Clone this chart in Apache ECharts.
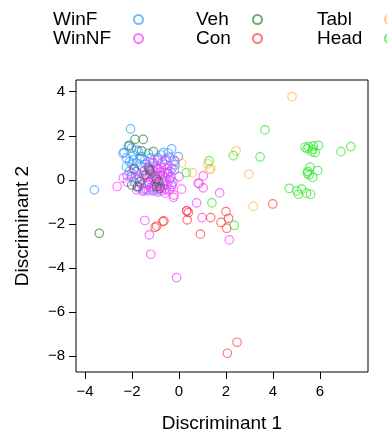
<!DOCTYPE html>
<html>
<head>
<meta charset="utf-8">
<script src="https://cdn.jsdelivr.net/npm/echarts@6/dist/echarts.min.js"></script>
<style>
  html, body { margin: 0; padding: 0; background: #fff; }
  #chart { width: 387px; height: 430px; }
</style>
</head>
<body>
<div id="chart"></div>
<script>
// discriminant scores, [LD1, LD2]
const winF = [
  [-2.06, 2.31], [-3.60, -0.45], [-2.33, 1.24], [-0.31, 1.41], [-0.03, 1.06], [-0.17, 0.83], [-0.67, 1.24],
  [-2.16, 1.52], [-2.38, 1.21], [-1.95, 1.13], [-2.24, 0.99], [-2.10, 0.83], [-2.24, 0.60], [-1.81, 0.76],
  [-1.60, 1.06], [-1.45, 0.91], [-1.73, 1.29], [-2.02, 1.44], [-0.46, 1.22], [-0.74, 1.13], [-1.81, 1.36],
  [-1.94, 0.91], [-1.66, 0.98], [-1.81, 0.38], [-2.02, 0.15], [-1.38, -0.45], [-1.09, -0.45], [-0.81, -0.30],
  [-0.38, 0.38], [-0.17, 0.68], [-1.3, 0.6], [-1.1, 0.8], [-0.9, 0.5], [-0.6, 0.7], [-0.5, 0.3], [-0.8, 0.2],
  [-1.0, 0.1], [-1.2, 0.3], [-1.5, 0.4], [-1.7, 0.1], [-1.9, -0.1], [-1.6, -0.2], [-1.3, -0.1], [-1.1, -0.3],
  [-0.7, -0.1], [-0.4, 0.0], [-0.3, -0.2], [-1.4, 0.7], [-1.2, 1.0], [-0.9, 1.0], [-0.6, 0.9], [-1.0, 0.6],
  [-1.6, 0.6], [-2.1, 0.4], [-2.0, 0.7], [-1.3, 1.2], [-0.4, 1.0], [-0.2, 0.45], [-1.75, -0.35], [-1.5, -0.5],
  [-0.6, -0.4], [-0.9, -0.55], [-2.2, 0.2]
];
const winNF = [
  [-2.63, -0.30], [-2.37, 0.08], [0.11, -0.42], [-0.24, -0.79], [-0.21, -0.69], [0.82, -0.15], [1.03, 0.18],
  [1.03, -0.36], [1.73, -0.59], [0.75, -1.04], [0.33, -1.39], [0.98, -1.71], [-1.45, -1.84], [-1.26, -2.49],
  [-1.20, -3.37], [-0.10, -4.43], [2.14, -2.72], [-0.60, -0.60], [-0.31, -0.30], [0.85, -0.17],
  [-2.0, 0.3], [-1.8, 0.05], [-1.7, -0.3], [-1.5, -0.4], [-1.3, -0.5], [-1.1, -0.5], [-0.9, -0.45],
  [-0.7, -0.35], [-0.5, -0.2], [-0.35, 0.1], [-0.5, 0.5], [-0.7, 0.8], [-0.9, 0.9], [-1.1, 0.75],
  [-1.3, 0.55], [-1.5, 0.2], [-1.2, 0.0], [-1.0, 0.2], [-0.8, 0.35], [-0.6, 0.1], [-0.85, -0.15],
  [-1.05, -0.2], [-1.25, 0.25], [-0.95, 0.5], [-0.75, 0.55], [-1.15, 0.45], [-0.65, -0.05], [-1.35, -0.2],
  [-0.55, -0.45], [-1.6, 0.0], [-0.45, 0.3], [-1.0, -0.05], [-0.9, 0.15], [-1.1, 0.1], [-0.8, -0.3],
  [-1.4, 0.1], [-0.3, 0.5], [-0.2, 0.9], [-0.55, 0.95], [-1.8, -0.45], [-2.2, -0.1], [-0.4, -0.45],
  [-1.2, -0.35], [-0.7, 0.2], [-1.0, 0.35], [-0.6, 0.35], [-1.55, -0.5], [-0.25, -0.1], [0.0, 0.15],
  [-1.9, 0.5], [-1.25, 0.8], [-0.95, -0.35], [-0.75, -0.5], [-1.45, 0.45]
];
const veh = [
  [-3.39, -2.42], [-2.11, 1.57], [-1.87, 1.84], [-1.52, 1.84], [-1.59, 1.32], [-1.09, 1.28], [-1.91, 0.49],
  [-1.26, 0.49], [-1.23, 0.41], [-1.40, 0.23], [-0.95, 0.03], [-0.88, -0.08], [-0.95, -0.30], [-2.01, -0.23],
  [-1.66, -0.08], [-1.77, -0.30], [-0.81, -0.38]
];
const con = [
  [3.99, -1.09], [0.33, -1.41], [0.40, -1.48], [0.35, -1.81], [1.35, -1.71], [2.00, -1.44], [2.11, -1.74],
  [1.79, -1.93], [2.03, -2.19], [0.91, -2.46], [-0.64, -1.86], [-0.69, -1.89], [-0.95, -2.09], [-1.02, -2.15],
  [2.47, -7.36], [2.06, -7.86]
];
const tabl = [
  [4.81, 3.78], [2.43, 1.32], [1.23, 0.73], [1.35, 0.50], [1.29, 0.48], [0.57, 0.32], [0.11, 0.76],
  [2.97, 0.26], [3.16, -1.19]
];
const head = [
  [5.36, 1.48], [5.50, 1.51], [5.71, 1.54], [5.93, 1.57], [5.65, 1.28], [5.79, 1.24], [5.69, 1.39], [5.45, 1.41],
  [5.57, 0.58], [5.90, 0.42], [5.48, 0.38], [5.54, 0.23], [5.69, 0.12], [5.46, 0.30],
  [4.69, -0.38], [5.01, -0.50], [5.22, -0.42], [5.08, -0.65], [5.43, -0.60], [5.60, -0.65],
  [6.89, 1.28], [7.31, 1.51], [3.66, 2.27], [2.31, 1.10], [3.45, 1.04], [1.28, 0.86], [0.31, 0.33],
  [1.40, -1.04], [2.35, -2.06]
];

const groupNames = ["WinF", "WinNF", "Veh", "Con", "Tabl", "Head"];
const groupData = [winF, winNF, veh, con, tabl, head];
const groupColors = [
  "rgba(51,153,255,0.85)",
  "rgba(255,51,255,0.85)",
  "rgba(30,120,30,0.8)",
  "rgba(255,40,40,0.8)",
  "rgba(255,170,40,0.75)",
  "rgba(40,230,40,0.85)"
];
const xTicks = [-4, -2, 0, 2, 4, 6];
const yTicks = [-8, -6, -4, -2, 0, 2, 4];

const fontFamily = "Liberation Sans, Arial, sans-serif";

// R-style legend column: text left aligned in a fixed box, symbol after it
function legendCol(names, left, textWidth) {
  return {
    data: names,
    left: left,
    top: 10,
    orient: "vertical",
    align: "right",
    itemGap: 0,
    itemWidth: 9,
    itemHeight: 9,
    padding: 0,
    selectedMode: false,
    formatter: "{t|{name}}",
    textStyle: {
      color: "#000",
      rich: {
        t: { fontSize: 19, fontFamily: fontFamily, color: "#000", width: textWidth, align: "left", lineHeight: 19 }
      }
    }
  };
}

const tickLabel = v => String(v).replace("-", "\u2212");

const option = {
  animation: false,
  backgroundColor: "#fff",
  legend: [
    legendCol(["WinF", "WinNF"], 53, 76),
    legendCol(["Veh", "Con"], 196, 52),
    legendCol(["Tabl", "Head"], 317, 63)
  ],
  grid: {
    left: 76, right: 19, top: 80, bottom: 58,
    outerBoundsMode: "none",
    show: true, borderColor: "#000", borderWidth: 1
  },
  xAxis: {
    type: "value",
    min: -4.38,
    max: 8.04,
    name: "Discriminant 1",
    nameLocation: "middle",
    nameGap: 42,
    nameTextStyle: { fontSize: 19, fontFamily: fontFamily, color: "#000" },
    axisLine: { show: false, onZero: false },
    axisTick: { show: true, length: 7, customValues: xTicks, lineStyle: { color: "#000" } },
    axisLabel: { customValues: xTicks, fontSize: 15, fontFamily: fontFamily, color: "#000", margin: 12, formatter: tickLabel },
    splitLine: { show: false }
  },
  yAxis: {
    type: "value",
    min: -8.71,
    max: 4.53,
    name: "Discriminant 2",
    nameLocation: "middle",
    nameGap: 44,
    nameTextStyle: { fontSize: 19, fontFamily: fontFamily, color: "#000" },
    axisLine: { show: false, onZero: false },
    axisTick: { show: true, length: 7, customValues: yTicks, lineStyle: { color: "#000" } },
    axisLabel: { customValues: yTicks, fontSize: 15, fontFamily: fontFamily, color: "#000", margin: 11, formatter: tickLabel },
    splitLine: { show: false }
  },
  series: groupNames.map((name, i) => ({
    name: name,
    type: "scatter",
    symbol: "circle",
    symbolSize: 8.5,
    data: groupData[i],
    itemStyle: { color: "rgba(0,0,0,0)", borderColor: groupColors[i], borderWidth: 1.2 },
    emphasis: { disabled: true }
  }))
};

const myChart = echarts.init(document.getElementById("chart"));
myChart.setOption(option);
</script>
</body>
</html>
